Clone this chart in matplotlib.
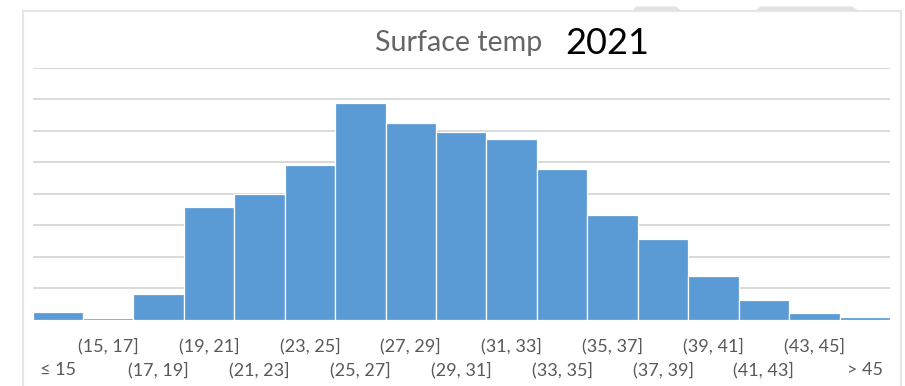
import matplotlib
matplotlib.use("Agg")
import matplotlib.pyplot as plt
from matplotlib.patches import Rectangle, Polygon
import numpy as np

# Temperature bins and their frequencies
bins = ["≤ 15", "(15, 17]", "(17, 19]", "(19, 21]", "(21, 23]", "(23, 25]",
        "(25, 27]", "(27, 29]", "(29, 31]", "(31, 33]", "(33, 35]", "(35, 37]",
        "(37, 39]", "(39, 41]", "(41, 43]", "(43, 45]", "> 45"]
counts = [1.3, 0.25, 4.1, 17.9, 20.0, 24.5, 34.4, 31.2, 29.8, 28.6, 24.0,
          16.6, 12.9, 6.9, 3.2, 1.1, 0.45]
grid_step = 5
y_max = 40

W, H = 905, 386
fig = plt.figure(figsize=(W / 100, H / 100), dpi=100)
fig.patch.set_facecolor("white")


def fx(x):
    return x / W


def fy(y):
    return 1 - y / H


# chart frame and the tabs peeking above it
fig.add_artist(Rectangle((fx(22.7), fy(420)), fx(901) - fx(22.7), fy(10.7) - fy(420),
                         transform=fig.transFigure, fill=False,
                         edgecolor="#E6E6E6", linewidth=1.5))
for pts in ([(633, 10.5), (636, 6.5), (676, 6.5), (681, 10.5)],
            [(756, 10.5), (760, 6.5), (852, 6.5), (858, 10.5)]):
    fig.add_artist(Polygon([(fx(a), fy(b)) for a, b in pts], closed=True,
                           transform=fig.transFigure, facecolor="#E2E2E2",
                           edgecolor="none"))

left, right, bottom, top = 32.5, 890, 320, 67.5
ax = fig.add_axes([fx(left), fy(bottom), fx(right) - fx(left), fy(top) - fy(bottom)])

x = np.arange(len(bins))
ax.bar(x, counts, width=1.0, color="#5B9BD5", edgecolor="#FFFFFF",
       linewidth=0.9, zorder=3)

ax.set_xlim(-0.5, len(bins) - 0.5)
ax.set_ylim(0, y_max)
ax.set_yticks(np.arange(0, y_max + 0.1, grid_step))
ax.yaxis.grid(True, color="#D9D9D9", linewidth=1.4, zorder=0)
ax.tick_params(axis="y", left=False, labelleft=False)
for s in ax.spines.values():
    s.set_visible(False)

# bin labels staggered over two rows
label_font = dict(family="Lato", size=13, color="#595959")
ax.set_xticks(x[1::2])
ax.set_xticklabels(bins[1::2], **label_font)
ax.set_xticks(x[0::2], minor=True)
ax.set_xticklabels(bins[0::2], minor=True, **label_font)
ax.tick_params(axis="x", which="major", length=0, pad=13)
ax.tick_params(axis="x", which="minor", length=0, pad=30)

fig.text(fx(375), fy(51), "Surface temp", family="Lato", fontsize=20.6,
         color="#666666", ha="left", va="baseline")
fig.text(fx(565), fy(54), "2021", family="Lato", fontsize=26,
         color="#000000", ha="left", va="baseline")

fig.savefig("out.png", dpi=100, facecolor="white")
